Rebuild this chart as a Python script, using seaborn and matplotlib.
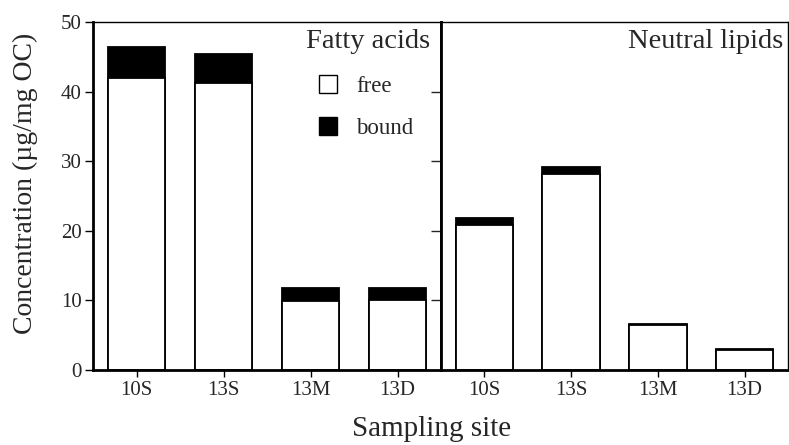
import matplotlib
matplotlib.use("Agg")
import matplotlib.pyplot as plt
import seaborn as sns
import pandas as pd
from matplotlib.lines import Line2D

sites = ["10S", "13S", "13M", "13D"]
fa_free = [42.0, 41.3, 9.9, 10.0]
fa_bound = [4.4, 4.1, 1.9, 1.85]
nl_free = [20.8, 28.1, 6.4, 2.85]
nl_bound = [1.0, 1.0, 0.15, 0.15]
yticks = [0, 10, 20, 30, 40, 50]

sns.set_style("ticks")
plt.rcParams['font.family'] = ['Liberation Serif', 'DejaVu Serif']

fig = plt.figure(figsize=(7.89, 4.45), dpi=100)
W, H = 789, 445
axL = fig.add_axes([93 / W, (H - 370) / H, 348 / W, 348 / H])
axR = fig.add_axes([441 / W, (H - 370) / H, 347 / W, 348 / H], sharey=axL)

def draw(ax, free, bound, title, tx):
    df = pd.DataFrame({"site": sites, "free": free,
                       "total": [f + b for f, b in zip(free, bound)]})
    sns.barplot(data=df, x="site", y="total", color="black", edgecolor="black",
                linewidth=1.3, width=0.66, saturation=1, ax=ax, order=sites)
    sns.barplot(data=df, x="site", y="free", color="white", edgecolor="black",
                linewidth=1.3, width=0.66, saturation=1, ax=ax, order=sites)
    ax.set_xlim(-0.5, 3.5)
    ax.set_ylim(0, 50)
    ax.set_xlabel("")
    ax.set_ylabel("")
    ax.text(tx, 0.98, title, transform=ax.transAxes, ha="right", va="top",
            fontsize=20.5)
    ax.tick_params(axis="x", direction="out", length=5, width=1, labelsize=15,
                   pad=3, color="black")
    for s in ["top", "right"]:
        ax.spines[s].set_visible(True)
        ax.spines[s].set_linewidth(1.0)
        ax.spines[s].set_color("black")
    for s in ["left", "bottom"]:
        ax.spines[s].set_linewidth(2.0)
        ax.spines[s].set_color("black")

draw(axL, fa_free, fa_bound, "Fatty acids", 0.968)
draw(axR, nl_free, nl_bound, "Neutral lipids", 0.985)

axL.set_yticks(yticks)
axL.tick_params(axis="y", direction="out", length=6, width=1, labelsize=15,
                pad=2, color="black")
axL2 = axL.secondary_yaxis("right")
axL2.set_yticks([10, 20, 30, 40])
axL2.tick_params(axis="y", direction="in", length=7, width=1, labelright=False)
axL2.spines["right"].set_visible(False)
axL.spines["right"].set_linewidth(2.0)

axR.tick_params(axis="y", left=False, labelleft=False)

fig.text(25 / W, 1 - 183 / H, "Concentration (µg/mg OC)", rotation=90,
         ha="center", va="center", fontsize=20)
fig.text(432 / W, 1 - 429 / H, "Sampling site", ha="center",
         va="center", fontsize=21)

handles = [Line2D([], [], marker="s", linestyle="none", markersize=12.5,
                  markerfacecolor="white", markeredgecolor="black",
                  markeredgewidth=1.0),
           Line2D([], [], marker="s", linestyle="none", markersize=12.5,
                  markerfacecolor="black", markeredgecolor="black")]
axL.legend(handles, ["free", "bound"], loc="upper left",
           bbox_to_anchor=(0.617, 0.87), frameon=False, fontsize=16.5,
           handletextpad=0.7, labelspacing=0.91, handlelength=1.0,
           borderaxespad=0)

fig.savefig("out.png", dpi=100)
